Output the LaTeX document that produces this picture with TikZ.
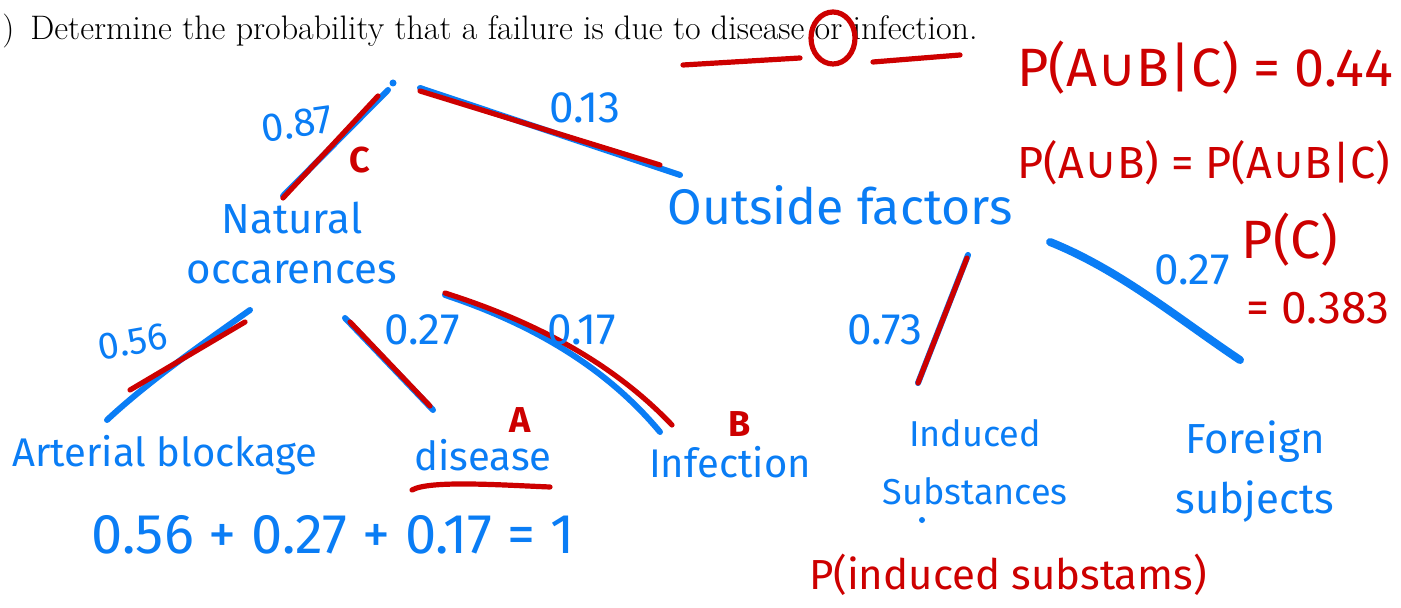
\documentclass[tikz,border=0pt]{standalone}
\usepackage{fontspec}
\newfontfamily\hand{Fira Sans}
\newfontfamily\symfont{DejaVu Sans}
\newcommand\mycup{{\symfont ∪}}
\definecolor{inkblue}{RGB}{10,125,245}
\definecolor{inkred}{RGB}{205,0,0}
\begin{document}
\begin{tikzpicture}[x=0.5pt,y=-0.5pt,
 bluetxt/.style={text=inkblue,font=\hand\fontsize{20}{24}\selectfont,inner sep=0pt,align=center},
 redtxt/.style={text=inkred,font=\hand\fontsize{27}{30}\selectfont,inner sep=0pt},
 lbl/.style={text=inkblue,font=\hand\fontsize{22}{24}\selectfont,inner sep=0pt},
 rlbl/.style={text=inkred,font=\hand\bfseries\fontsize{18}{20}\selectfont,inner sep=0pt},
 bline/.style={draw=inkblue,line width=3pt,line cap=round},
 rline/.style={draw=inkred,line width=2.6pt,line cap=round},
 question/.style={font=\fontsize{17}{19}\selectfont,inner sep=0pt,anchor=base west}]
\useasboundingbox[fill=white] (0,0) rectangle (1401,608);

% question
\node[question] (qp) at (2,40) {)};
\node[question] (q) at (30,40) {Determine the probability that a failure is due to disease or infection.};
\draw[rline] (833,38) ellipse (22 and 26);
\coordinate (u1a) at (683,65); \coordinate (u1b) at (800,58);
\coordinate (u2a) at (873,62); \coordinate (u2b) at (960,55);
\draw[rline] (u1a) -- (u1b);
\draw[rline] (u2a) -- (u2b);

% nodes
\fill[inkblue] (393,83) circle (3.5) coordinate (root);
\node[bluetxt,font=\hand\fontsize{21}{25}\selectfont] (nat) at (292,243) {Natural\\occarences};
\node[bluetxt,font=\hand\fontsize{25}{28}\selectfont] (out) at (840,205) {Outside factors};
\node[bluetxt] (art) at (165,455) {Arterial blockage};
\node[bluetxt] (dis) at (483,455) {disease};
\node[bluetxt] (inf) at (730,462) {Infection};
\node[bluetxt,font=\hand\fontsize{18}{29}\selectfont] (ind) at (975,462) {Induced\\Substances};
\node[bluetxt,font=\hand\fontsize{21}{30}\selectfont] (for) at (1255,472) {Foreign\\subjects};
\fill[inkblue] (922,520) circle (3);

% connector end points
\coordinate (r1) at (388,90);  \coordinate (n1) at (283,196);
\coordinate (r2) at (420,88);  \coordinate (o1) at (680,175);
\coordinate (n2) at (250,310); \coordinate (a1) at (107,420);
\coordinate (n3) at (345,318); \coordinate (d1) at (433,410);
\coordinate (n4) at (445,295); \coordinate (i1) at (660,432);
\coordinate (o2) at (968,255); \coordinate (s1) at (918,383);
\coordinate (o3) at (1050,242);\coordinate (f1) at (1240,360);

% blue branches
\draw[bline] (r1) -- (n1);
\draw[bline] (r2) -- (o1);
\draw[bline] (n2) .. controls (205,342) and (150,380) .. (a1);
\draw[bline] (n3) -- (d1);
\draw[bline] (n4) .. controls (520,320) and (600,360) .. (i1);
\draw[bline] (o2) -- (s1);
\draw[bline,line width=4pt] (o3) .. controls (1120,270) and (1180,320) .. (f1);

% red overlays
\coordinate (r1r) at (378,96);  \coordinate (n1r) at (283,198);
\coordinate (r2r) at (420,91);  \coordinate (o1r) at (660,165);
\coordinate (n2r) at (245,322); \coordinate (a1r) at (130,390);
\coordinate (n3r) at (350,322); \coordinate (d1r) at (430,406);
\coordinate (n4r) at (445,293); \coordinate (i1r) at (672,425);
\coordinate (o2r) at (967,258); \coordinate (s1r) at (918,383);
\draw[rline] (r1r) -- (n1r);
\draw[rline] (r2r) -- (o1r);
\draw[rline] (n2r) -- (a1r);
\draw[rline] (n3r) -- (d1r);
\draw[rline] (n4r) .. controls (530,320) and (610,360) .. (i1r);
\draw[rline] (o2r) -- (s1r);

% branch labels
\node[lbl,rotate=8,font=\hand\fontsize{20}{22}\selectfont] (p087) at (297,124) {0.87};
\node[lbl] (p013) at (585,108) {0.13};
\node[lbl,rotate=10,font=\hand\fontsize{19}{21}\selectfont] (p056) at (133,342) {0.56};
\node[lbl] (p027a) at (422,330) {0.27};
\node[lbl] (p017) at (582,330) {0.17};
\node[lbl] (p073) at (885,330) {0.73};
\node[lbl] (p027b) at (1192,270) {0.27};
\node[rlbl] (cC) at (360,160) {C};
\node[rlbl] (cA) at (520,420) {A};
\node[rlbl] (cB) at (740,424) {B};

% underline
\coordinate (ul1) at (412,490); \coordinate (ul2) at (550,487);
\draw[rline] (ul1) .. controls (430,480) and (500,485) .. (ul2);

% sum
\node[bluetxt,font=\hand\fontsize{28}{30}\selectfont] (sum) at (333,535) {0.56 + 0.27 + 0.17 = 1};

% red notes
\node[redtxt] (e1) at (1205,68) {P(A\mycup B|C) = 0.44};
\node[redtxt,font=\hand\fontsize{22.5}{26}\selectfont] (e2) at (1204,163) {P(A\mycup B) = P(A\mycup B|C)};
\node[redtxt] (e3) at (1290,240) {P(C)};
\node[redtxt,font=\hand\fontsize{23}{26}\selectfont] (e4) at (1318,308) {= 0.383};
\node[redtxt,font=\hand\fontsize{21}{24}\selectfont] (e5) at (1008,575) {P(induced substams)};
\end{tikzpicture}
\end{document}
